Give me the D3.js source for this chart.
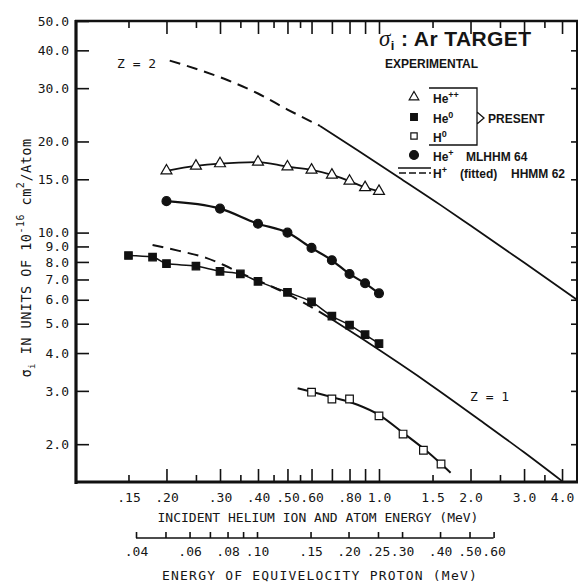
<!DOCTYPE html>
<html>
<head>
<meta charset="utf-8">
<script src="https://cdn.jsdelivr.net/npm/d3@7"></script>
<style>
body { margin: 0; background: #fff; }
text { font-family: "DejaVu Sans Mono", monospace; fill: #151515; }
.lg { font-family: "Liberation Sans", Arial, sans-serif; font-weight: bold; }
</style>
</head>
<body>
<svg id="chart" width="579" height="583"></svg>
<script>
// ---- data ----
// He++ (present), open triangles
var heppE = [0.20, 0.25, 0.30, 0.40, 0.50, 0.60, 0.70, 0.80, 0.90, 1.00];
var heppS = [16.0, 16.6, 16.9, 17.1, 16.5, 16.1, 15.5, 14.8, 14.1, 13.7];
// He+ (MLHHM 64), filled circles
var hepE = [0.20, 0.30, 0.40, 0.50, 0.60, 0.70, 0.80, 0.90, 1.00];
var hepS = [12.7, 12.0, 10.7, 10.0, 8.9, 8.1, 7.3, 6.8, 6.3];
// He0 (present), filled squares
var he0E = [0.15, 0.18, 0.20, 0.25, 0.30, 0.35, 0.40, 0.50, 0.60, 0.70, 0.80, 0.90, 1.00];
var he0S = [8.4, 8.3, 7.9, 7.75, 7.45, 7.3, 6.9, 6.35, 5.9, 5.3, 4.95, 4.6, 4.3];
// H0 (present), open squares + fitted curve
var h0E = [0.60, 0.70, 0.80, 1.00, 1.20, 1.40, 1.60];
var h0S = [2.97, 2.82, 2.82, 2.48, 2.16, 1.91, 1.72];
var h0FitE = [0.54, 0.70, 0.85, 1.00, 1.20, 1.45, 1.72];
var h0FitS = [3.06, 2.86, 2.70, 2.50, 2.18, 1.88, 1.61];
// Z = 2 curve: dashed (fitted) part, then solid
var z2DashE = [0.205, 0.26, 0.32, 0.40, 0.50, 0.64];
var z2DashS = [37.0, 34.3, 31.8, 28.8, 25.5, 22.5];
var z2SolidE = [0.64, 0.85, 1.17, 1.60, 2.00, 3.00, 4.48];
var z2SolidS = [22.5, 18.7, 15.15, 12.3, 10.55, 7.96, 6.0];
// Z = 1 curve (H+ fitted, HHMM 62)
var z1DashE = [0.18, 0.22, 0.27, 0.31, 0.35, 0.42, 0.51, 0.69];
var z1DashS = [9.1, 8.7, 8.25, 7.8, 7.35, 6.8, 6.2, 5.22];
var z1SolidE = [0.69, 0.886, 1.50, 2.15, 3.00, 4.00];
var z1SolidS = [5.22, 4.44, 3.11, 2.40, 1.88, 1.51];

// axis ticks
var xLongTicks = [0.2, 0.3, 0.4, 0.5, 0.6, 0.7, 0.8, 0.9, 1.0, 2.0, 3.0, 4.0];
var xShortTicks = [0.15, 0.25, 0.35, 0.45, 0.55, 1.5, 2.5, 3.5];
var xLabelVals = [0.15, 0.2, 0.3, 0.4, 0.5, 0.6, 0.8, 1.0, 1.5, 2.0, 3.0, 4.0];
var xLabels = [".15", ".20", ".30", ".40", ".50", ".60", ".80", "1.0", "1.5", "2.0", "3.0", "4.0"];
var yTickVals = [50, 40, 30, 20, 15, 10, 9, 8, 7, 6, 5, 4, 3, 2];
var yLabels = ["50.0", "40.0", "30.0", "20.0", "15.0", "10.0", "9.0", "8.0", "7.0", "6.0", "5.0", "4.0", "3.0", "2.0"];
var pTickVals = [0.04, 0.05, 0.06, 0.07, 0.08, 0.09, 0.10, 0.15, 0.20, 0.25, 0.30, 0.40, 0.50, 0.60];
var pLabelVals = [0.04, 0.06, 0.08, 0.10, 0.15, 0.20, 0.25, 0.30, 0.40, 0.50, 0.60];
var pLabels = [".04", ".06", ".08", ".10", ".15", ".20", ".25", ".30", ".40", ".50", ".60"];
var massRatio = 3.97;   // He / H mass, for the equivelocity proton scale

var zip = function (a, b) { return a.map(function (v, i) { return [v, b[i]]; }); };

var svg = d3.select("#chart");
var ink = "#111";

var x = d3.scaleLog().domain([0.1008, 4.48]).range([76, 577]);
var y = d3.scaleLog().domain([1.5, 50]).range([482, 21]);
var xp = d3.scaleLog().domain([0.1008 / massRatio, 4.48 / massRatio]).range([76, 577]);

function clean(g) {
	g.select(".domain").remove();
	g.selectAll("line").attr("stroke", ink).attr("stroke-width", 1.6);
	g.selectAll("text").attr("fill", ink).style("font-size", "13px");
}

// ---- axes ----
svg.append("g").attr("transform", "translate(0,482)")
	.call(d3.axisBottom(x).tickValues(xLongTicks).tickSize(-13).tickFormat("")).call(clean);
svg.append("g").attr("transform", "translate(0,482)")
	.call(d3.axisBottom(x).tickValues(xShortTicks).tickSize(-7).tickFormat("")).call(clean);
svg.append("g").attr("transform", "translate(0,482)")
	.call(d3.axisBottom(x).tickValues(xLabelVals).tickSize(0).tickPadding(11)
		.tickFormat(function (d, i) { return xLabels[i]; })).call(clean);

svg.append("g").attr("transform", "translate(0,21)")
	.call(d3.axisTop(x).tickValues(xLongTicks).tickSize(-13).tickFormat("")).call(clean);
svg.append("g").attr("transform", "translate(0,21)")
	.call(d3.axisTop(x).tickValues(xShortTicks).tickSize(-7).tickFormat("")).call(clean);

svg.append("g").attr("transform", "translate(76,0)")
	.call(d3.axisLeft(y).tickValues(yTickVals).tickSize(-13).tickPadding(7)
		.tickFormat(function (d, i) { return yLabels[i]; })).call(clean);
svg.append("g").attr("transform", "translate(577,0)")
	.call(d3.axisRight(y).tickValues(yTickVals.slice(1)).tickSize(-6).tickFormat("")).call(clean);

// frame
svg.append("line").attr("x1", 76).attr("x2", 76).attr("y1", 20).attr("y2", 484).attr("stroke", ink).attr("stroke-width", 3.2);
svg.append("line").attr("x1", 75).attr("x2", 578).attr("y1", 482).attr("y2", 482).attr("stroke", ink).attr("stroke-width", 3.2);
svg.append("line").attr("x1", 75).attr("x2", 578).attr("y1", 21).attr("y2", 21).attr("stroke", ink).attr("stroke-width", 2.4);
svg.append("line").attr("x1", 577).attr("x2", 577).attr("y1", 20).attr("y2", 483).attr("stroke", ink).attr("stroke-width", 2);

// equivelocity proton axis
var pg = svg.append("g").attr("transform", "translate(0,538)")
	.call(d3.axisBottom(xp).tickValues(pTickVals).tickSize(-6).tickFormat("")).call(clean);
pg.append("line").attr("x1", xp(0.04)).attr("x2", xp(0.60)).attr("stroke", ink).attr("stroke-width", 1.6);
svg.append("g").attr("transform", "translate(0,538)")
	.call(d3.axisBottom(xp).tickValues(pLabelVals).tickSize(0).tickPadding(9)
		.tickFormat(function (d, i) { return pLabels[i]; })).call(clean);

// axis titles
svg.append("text").attr("x", 318).attr("y", 522).attr("text-anchor", "middle")
	.style("font-size", "13px").text("INCIDENT HELIUM ION AND ATOM ENERGY (MeV)");
svg.append("text").attr("x", 320).attr("y", 580).attr("text-anchor", "middle")
	.style("font-size", "13px").style("letter-spacing", "1.2px").text("ENERGY OF EQUIVELOCITY PROTON (MeV)");

var yt = svg.append("text").attr("transform", "translate(31,258) rotate(-90)")
	.attr("text-anchor", "middle").style("font-size", "13.5px").style("letter-spacing", "0.5px");
yt.append("tspan").text("σ");
yt.append("tspan").attr("dy", 4).style("font-size", "9px").text("i");
yt.append("tspan").attr("dy", -4).text(" IN UNITS OF 10");
yt.append("tspan").attr("dy", -7).style("font-size", "10px").text("-16");
yt.append("tspan").attr("dy", 7).text(" cm");
yt.append("tspan").attr("dy", -7).style("font-size", "10px").text("2");
yt.append("tspan").attr("dy", 7).text("/Atom");

// ---- curves ----
var line = d3.line()
	.x(function (d) { return x(d[0]); })
	.y(function (d) { return y(d[1]); })
	.curve(d3.curveMonotoneX);

function curve(data, w, dash) {
	svg.append("path").datum(data).attr("d", line)
		.attr("fill", "none").attr("stroke", ink).attr("stroke-width", w)
		.attr("stroke-dasharray", dash || null);
}

curve(zip(z2DashE, z2DashS), 2, "11,7");
curve(zip(z2SolidE, z2SolidS), 1.8);
curve(zip(z1DashE, z1DashS), 2, "11,7");
curve(zip(z1SolidE, z1SolidS), 1.8);
curve(zip(heppE, heppS), 1.8);
curve(zip(hepE, hepS), 2.2);
curve(zip(he0E, he0S), 1.5);
curve(zip(h0FitE, h0FitS), 2);

// ---- markers ----
function markers(E, S, type, size, filled) {
	svg.append("g").selectAll("path").data(zip(E, S)).enter().append("path")
		.attr("transform", function (d) { return "translate(" + x(d[0]) + "," + y(d[1]) + ")"; })
		.attr("d", d3.symbol().type(type).size(size))
		.attr("fill", filled ? ink : "#fff")
		.attr("stroke", ink).attr("stroke-width", 1.2);
}
markers(heppE, heppS, d3.symbolTriangle, 52, false);
markers(hepE, hepS, d3.symbolCircle, 62, true);
markers(he0E, he0S, d3.symbolSquare, 56, true);
markers(h0E, h0S, d3.symbolSquare, 58, false);

// curve labels
svg.append("text").attr("x", 117).attr("y", 68).style("font-size", "13px").text("Z = 2");
svg.append("text").attr("x", 470).attr("y", 401).style("font-size", "13px").text("Z = 1");

// ---- title & legend ----
var tt = svg.append("text").attr("x", 379).attr("y", 46).attr("class", "lg").style("font-size", "21px").style("letter-spacing", "0.4px");
tt.append("tspan").style("font-family", "'Liberation Serif', serif").style("font-style", "italic").style("font-weight", "normal").style("font-size", "23px").text("σ");
tt.append("tspan").attr("dy", 4).style("font-size", "13px").text("i");
tt.append("tspan").attr("dy", -4).text(" : Ar TARGET");
svg.append("text").attr("x", 385).attr("y", 68).attr("class", "lg").style("font-size", "12px").text("EXPERIMENTAL");

function legSym(cx, cy, type, size, filled) {
	svg.append("path").attr("transform", "translate(" + cx + "," + cy + ")")
		.attr("d", d3.symbol().type(type).size(size))
		.attr("fill", filled ? ink : "#fff").attr("stroke", ink).attr("stroke-width", 1.2);
}
function legText(tx, ty, base, sup) {
	var t = svg.append("text").attr("x", tx).attr("y", ty).attr("class", "lg").style("font-size", "12px");
	t.append("tspan").text(base);
	t.append("tspan").attr("dy", -5).style("font-size", "9px").text(sup);
}
function plainText(tx, ty, s) {
	svg.append("text").attr("x", tx).attr("y", ty).attr("class", "lg").style("font-size", "12px").text(s);
}
legSym(414, 97, d3.symbolTriangle, 40, false);
legText(433, 103, "He", "++");
legSym(414, 117, d3.symbolSquare, 45, true);
legText(433, 123, "He", "0");
legSym(414, 136, d3.symbolSquare, 40, false);
legText(433, 142, "H", "0");
legSym(414, 155, d3.symbolCircle, 62, true);
legText(433, 161, "He", "+");
plainText(466, 161, "MLHHM 64");
svg.append("line").attr("x1", 398).attr("x2", 431).attr("y1", 168).attr("y2", 168).attr("stroke", ink).attr("stroke-width", 1.5);
svg.append("line").attr("x1", 399).attr("x2", 431).attr("y1", 173).attr("y2", 173).attr("stroke", ink).attr("stroke-width", 1.5).attr("stroke-dasharray", "7,3");
legText(433, 178, "H", "+");
plainText(460, 178, "(fitted)");
plainText(511, 178, "HHMM 62");

// bracket for "PRESENT"
svg.append("path").attr("d", "M429,88 H477 V145 H429 M477,112 L484,118 L477,124")
	.attr("fill", "none").attr("stroke", ink).attr("stroke-width", 1.3);
svg.append("text").attr("x", 488).attr("y", 123).attr("class", "lg").style("font-size", "12px").text("PRESENT");
</script>
</body>
</html>
